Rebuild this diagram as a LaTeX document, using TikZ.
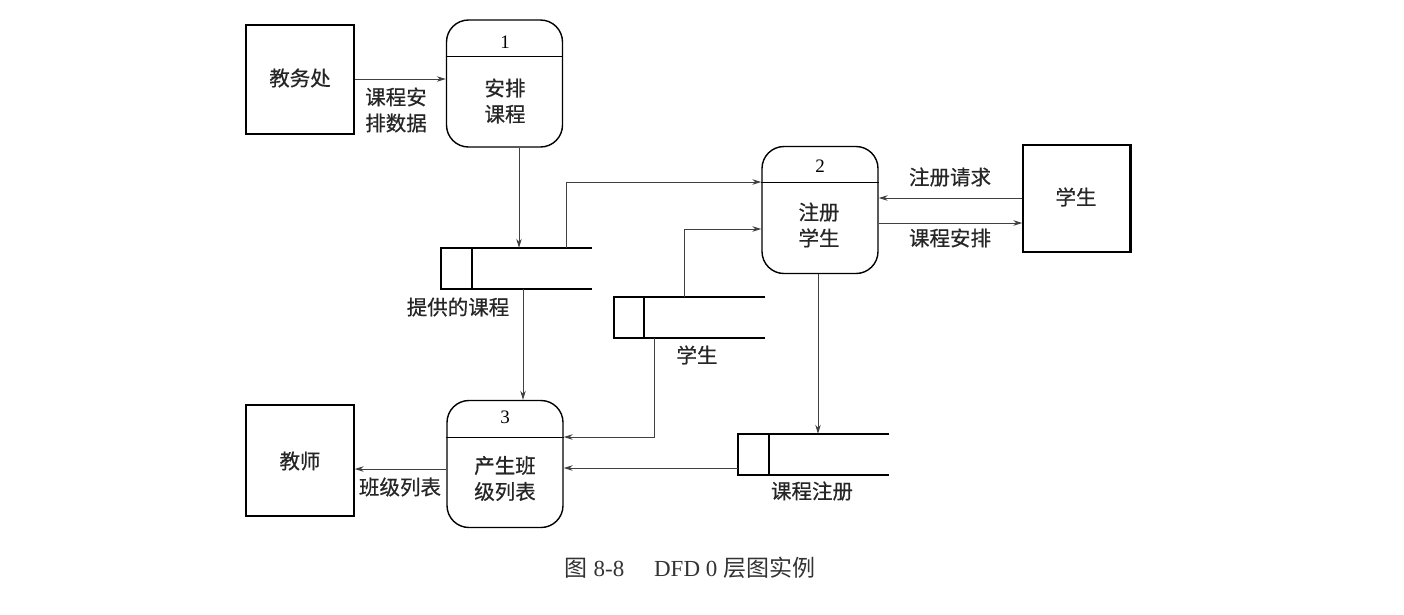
\documentclass[tikz,border=0pt]{standalone}
\usepackage{fontspec}
\setmainfont{Liberation Serif}
\newfontfamily\cjk[FakeBold=0.6]{Noto Sans CJK SC}
\newfontfamily\cjkcap{Noto Sans CJK SC}
\usetikzlibrary{arrows.meta,calc}
\tikzset{
  box/.style={draw, line width=1.4pt, rectangle, inner sep=0pt},
  proc/.style={draw, line width=1.4pt, rectangle, rounded corners=22pt, inner sep=0pt, minimum width=116pt, minimum height=127pt},
  storebox/.style={rectangle, inner sep=0pt, minimum width=151pt, minimum height=41pt},
  storeline/.style={line width=1.5pt},
  divline/.style={line width=1pt},
  flow/.style={line width=0.9pt, draw=black!75, -{Stealth[length=9pt,width=5.5pt]}},
  lbl/.style={font=\cjk\fontsize{20.5}{26}\selectfont, align=center, inner sep=0pt, text=black!85},
  num/.style={font=\fontsize{19}{20}\selectfont, inner sep=0pt},
}
\begin{document}
\begin{tikzpicture}[x=1pt,y=-1pt]
\useasboundingbox (0,0) rectangle (1404,614);
% external entities
\node[box, minimum width=108pt, minimum height=109pt] (ea) at (300,79.5) {};
\node[lbl] (eat) at (300,78) {教务处};
\node[box, minimum width=108pt, minimum height=111pt] (te) at (300,460.5) {};
\node[lbl] (tet) at (300,461) {教师};
\node[box, minimum width=107pt, minimum height=107pt] (st) at (1076.5,198.5) {};
\draw[line width=2.2pt] (st.north east) -- (st.south east);
\node[lbl] (stt) at (1076,197) {学生};
% processes
\node[proc] (p1) at (504.5,83.5) {};
\draw[divline] (p1.west |- 0,56) -- (p1.east |- 0,56);
\node[num] (n1) at (505,42) {1};
\node[lbl] (p1t) at (505,101) {安排\\课程};
\node[proc] (p2) at (820,210) {};
\draw[divline] (p2.west |- 0,182) -- (p2.east |- 0,182);
\node[num] (n2) at (820,166) {2};
\node[lbl] (p2t) at (819,225) {注册\\学生};
\node[proc] (p3) at (505,464) {};
\draw[divline] (p3.west |- 0,437) -- (p3.east |- 0,437);
\node[num] (n3) at (505,417) {3};
\node[lbl] (p3t) at (505,478.5) {产生班\\级列表};
% data stores
\node[storebox] (s1) at (516.5,268.5) {};
\draw[storeline] (s1.north east) -- (s1.north west) -- (s1.south west) -- (s1.south east);
\draw[storeline] ($(s1.north west)+(31,0)$) -- ($(s1.south west)+(31,0)$);
\node[lbl] (s1t) at (458,307) {提供的课程};
\node[storebox] (s2) at (689.5,317.5) {};
\draw[storeline] (s2.north east) -- (s2.north west) -- (s2.south west) -- (s2.south east);
\draw[storeline] ($(s2.north west)+(30,0)$) -- ($(s2.south west)+(30,0)$);
\node[lbl] (s2t) at (697,355) {学生};
\node[storebox] (s3) at (813.5,454.5) {};
\draw[storeline] (s3.north east) -- (s3.north west) -- (s3.south west) -- (s3.south east);
\draw[storeline] ($(s3.north west)+(31,0)$) -- ($(s3.south west)+(31,0)$);
\node[lbl] (s3t) at (812,491) {课程注册};
% flow labels
\node[lbl] (f1) at (396,110) {课程安\\排数据};
\node[lbl] (f5) at (950,177) {注册请求};
\node[lbl] (f6) at (950,238) {课程安排};
\node[lbl] (f11) at (400,487) {班级列表};
% flows
\draw[flow] (ea.east |- 0,79) -- (p1.west |- 0,79);
\draw[flow] (p1.south -| 519,0) -- (s1.north -| 519,0);
\draw[flow] (s1.north -| 566,0) |- (p2.west |- 0,182);
\draw[flow] (s2.north -| 684,0) |- (p2.west |- 0,229);
\draw[flow] (st.west |- 0,198) -- (p2.east |- 0,198);
\draw[flow] (p2.east |- 0,223) -- (st.west |- 0,223);
\draw[flow] (p2.south -| 818,0) -- (s3.north -| 818,0);
\draw[flow] (s1.south -| 523,0) -- (p3.north -| 523,0);
\draw[flow] (s2.south -| 654,0) |- (p3.east |- 0,437);
\draw[flow] (s3.west |- 0,468) -- (p3.east |- 0,468);
\draw[flow] (p3.west |- 0,469) -- (te.east |- 0,469);
% caption
\node[inner sep=0pt, font=\fontsize{23}{26}\selectfont, text=black!80] (cap) at (690,568) {{\cjkcap 图} 8-8\hspace{1.3em}DFD 0 {\cjkcap 层图实例}};
\end{tikzpicture}
\end{document}
